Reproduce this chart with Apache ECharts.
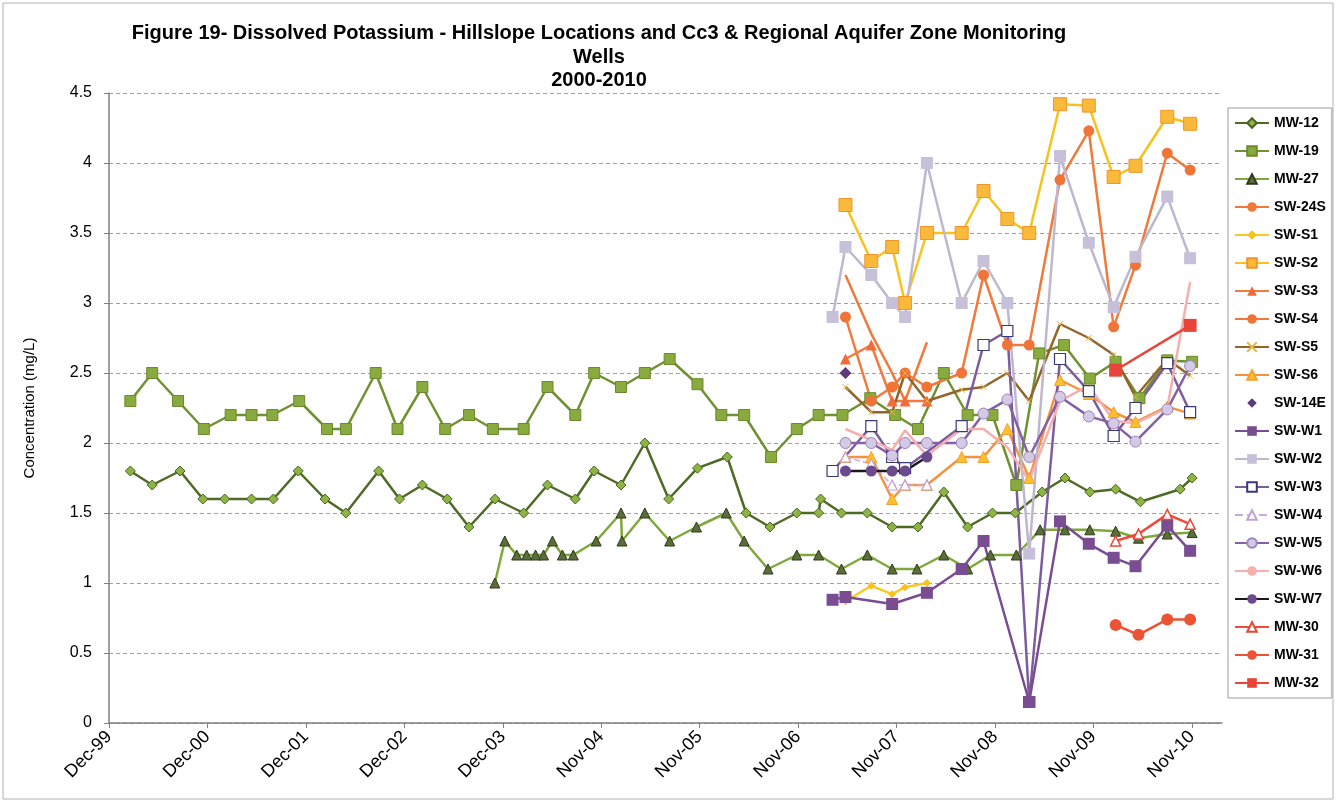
<!DOCTYPE html>
<html>
<head>
<meta charset="utf-8">
<script src="https://cdn.jsdelivr.net/npm/echarts@6/dist/echarts.min.js"></script>
<style>
  html, body { margin: 0; padding: 0; background: #fff; }
  #chart { width: 1337px; height: 803px; }
</style>
</head>
<body>
<div id="chart"></div>
<script>
// x tick labels (one tick every 362 days starting Dec-99)
const TICK_LABELS = ['Dec-99', 'Dec-00', 'Dec-01', 'Dec-02', 'Dec-03', 'Nov-04', 'Nov-05', 'Nov-06', 'Nov-07', 'Nov-08', 'Nov-09', 'Nov-10'];

// sample dates as decimal years
const MW12_DATES = [2000.17, 2000.39, 2000.67, 2000.90, 2001.12, 2001.39, 2001.61, 2001.86, 2002.13, 2002.34, 2002.67, 2002.88, 2003.11, 2003.36, 2003.58, 2003.84, 2004.13, 2004.37, 2004.65, 2004.84, 2005.11, 2005.35, 2005.59, 2005.88, 2006.18, 2006.37, 2006.61, 2006.88, 2007.10, 2007.12, 2007.33, 2007.59, 2007.84, 2008.10, 2008.36, 2008.60, 2008.85, 2009.08, 2009.35, 2009.58, 2009.83, 2010.09, 2010.34, 2010.74, 2010.86];
const MW12_K = [1.8, 1.7, 1.8, 1.6, 1.6, 1.6, 1.6, 1.8, 1.6, 1.5, 1.8, 1.6, 1.7, 1.6, 1.4, 1.6, 1.5, 1.7, 1.6, 1.8, 1.7, 2.0, 1.6, 1.82, 1.9, 1.5, 1.4, 1.5, 1.5, 1.6, 1.5, 1.5, 1.4, 1.4, 1.65, 1.4, 1.5, 1.5, 1.65, 1.75, 1.65, 1.67, 1.58, 1.67, 1.75];

const MW19_DATES = [2000.17, 2000.39, 2000.65, 2000.91, 2001.18, 2001.39, 2001.60, 2001.87, 2002.15, 2002.34, 2002.64, 2002.86, 2003.11, 2003.34, 2003.58, 2003.82, 2004.13, 2004.37, 2004.65, 2004.84, 2005.11, 2005.35, 2005.60, 2005.88, 2006.12, 2006.35, 2006.62, 2006.88, 2007.10, 2007.34, 2007.62, 2007.87, 2008.10, 2008.36, 2008.60, 2008.85, 2009.09, 2009.32, 2009.57, 2009.83, 2010.09, 2010.33, 2010.61, 2010.86];
const MW19_K = [2.3, 2.5, 2.3, 2.1, 2.2, 2.2, 2.2, 2.3, 2.1, 2.1, 2.5, 2.1, 2.4, 2.1, 2.2, 2.1, 2.1, 2.4, 2.2, 2.5, 2.4, 2.5, 2.6, 2.42, 2.2, 2.2, 1.9, 2.1, 2.2, 2.2, 2.32, 2.2, 2.1, 2.5, 2.2, 2.2, 1.7, 2.64, 2.7, 2.46, 2.58, 2.32, 2.59, 2.58];

const MW27_DATES = [2003.84, 2003.94, 2004.06, 2004.16, 2004.25, 2004.33, 2004.42, 2004.52, 2004.63, 2004.86, 2005.11, 2005.12, 2005.35, 2005.60, 2005.87, 2006.17, 2006.35, 2006.59, 2006.88, 2007.10, 2007.33, 2007.59, 2007.84, 2008.09, 2008.36, 2008.60, 2008.83, 2009.09, 2009.33, 2009.58, 2009.83, 2010.09, 2010.32, 2010.61, 2010.86];
const MW27_K = [1.0, 1.3, 1.2, 1.2, 1.2, 1.2, 1.3, 1.2, 1.2, 1.3, 1.5, 1.3, 1.5, 1.3, 1.4, 1.5, 1.3, 1.1, 1.2, 1.2, 1.1, 1.2, 1.1, 1.1, 1.2, 1.1, 1.2, 1.2, 1.38, 1.38, 1.38, 1.37, 1.32, 1.35, 1.36];

// surface water sampling rounds (null = not sampled)
const SW_DATES = [2007.24, 2007.37, 2007.63, 2007.84, 2007.97, 2008.19, 2008.54, 2008.76, 2009.00, 2009.22, 2009.53, 2009.82, 2010.07, 2010.29, 2010.61, 2010.84];
const SW24S_K = [null, 3.2, 2.78, 2.5, 2.3, 2.72, null, null, null, null, null, null, null, null, null, null];
const SWS1_K = [null, 0.87, 0.98, 0.92, 0.97, 1.0, null, null, null, null, null, null, null, null, null, null];
const SWS2_K = [null, 3.7, 3.3, 3.4, 3.0, 3.5, 3.5, 3.8, 3.6, 3.5, 4.42, 4.41, 3.9, 3.98, 4.33, 4.28];
const SWS3_K = [null, 2.6, 2.7, 2.3, 2.3, 2.3, null, null, null, null, null, null, null, null, null, null];
const SWS4_K = [null, 2.9, 2.3, 2.4, 2.5, 2.4, 2.5, 3.2, 2.7, 2.7, 3.88, 4.23, 2.83, 3.27, 4.07, 3.95];
const SWS5_K = [null, 2.4, 2.22, 2.22, 2.5, 2.3, 2.38, 2.4, 2.5, 2.3, 2.85, 2.75, 2.63, 2.33, 2.6, 2.48];
const SWS6_K = [null, 1.9, 1.9, 1.6, 1.7, 1.7, 1.9, 1.9, 2.1, 1.75, 2.45, 2.35, 2.22, 2.15, 2.26, 2.21];
const SW14E_K = [null, 2.5, null, null, null, null, null, null, null, null, null, null, null, null, null, null];
const SWW1_K = [0.88, 0.9, null, 0.85, null, 0.93, 1.1, 1.3, null, 0.15, 1.44, 1.28, 1.18, 1.12, 1.41, 1.23];
const SWW2_K = [2.9, 3.4, 3.2, 3.0, 2.9, 4.0, 3.0, 3.3, 3.0, 1.21, 4.05, 3.43, 2.97, 3.33, 3.76, 3.32];
const SWW3_K = [1.8, null, 2.12, 1.9, 1.82, null, 2.12, 2.7, 2.8, 0.15, 2.6, 2.37, 2.05, 2.25, 2.57, 2.22];
const SWW4_K = [null, 1.9, 1.85, 1.7, 1.7, 1.7, null, null, null, null, null, null, null, null, null, null];
const SWW5_K = [null, 2.0, 2.0, 1.91, 2.0, 2.0, 2.0, 2.21, 2.31, 1.9, 2.33, 2.19, 2.14, 2.01, 2.24, 2.55];
const SWW6_K = [null, 2.1, 2.02, 1.95, 2.09, 1.91, 2.1, 2.1, 1.97, 1.73, 2.3, 2.41, 2.16, 2.14, 2.25, 3.15];
const SWW7_K = [null, 1.8, 1.8, 1.8, 1.8, 1.9, null, null, null, null, null, null, null, null, null, null];

// new monitoring wells, 2010
const MW_LATE_DATES = [2010.09, 2010.32, 2010.61, 2010.84];
const MW30_K = [1.3, 1.35, 1.49, 1.42];
const MW31_K = [0.7, 0.63, 0.74, 0.74];
const MW32_K = [2.52, null, null, 2.84];

// axis origin = Dec-99 tick, ticks every 362 days
const X0 = 1999.955;
const TICK_DAYS = 362;
const toDays = yr => (yr - X0) * 365.25;

const FONT = 'Liberation Sans, Arial, sans-serif';

function series(name, dates, values, opts) {
  const data = [];
  dates.forEach((d, i) => {
    if (values[i] !== null && values[i] !== undefined) data.push([toDays(d), values[i]]);
  });
  return Object.assign({
    name: name,
    type: 'line',
    data: data,
    showAllSymbol: true,
    symbolSize: 10,
    emphasis: { disabled: true },
    animation: false
  }, opts);
}

const XMARK = 'path://M0,0L10,10M10,0L0,10';

const allSeries = [
  series('MW-12', MW12_DATES, MW12_K, {
    symbol: 'diamond', symbolSize: 10,
    itemStyle: { color: '#8db543', borderColor: '#4a6222', borderWidth: 1 },
    lineStyle: { color: '#4f6a25', width: 2.5 }
  }),
  series('MW-19', MW19_DATES, MW19_K, {
    symbol: 'rect', symbolSize: 11,
    itemStyle: { color: '#88aa3e', borderColor: '#6b8a2c', borderWidth: 1 },
    lineStyle: { color: '#6f9131', width: 2.5 }
  }),
  series('MW-27', MW27_DATES, MW27_K, {
    symbol: 'triangle', symbolSize: 10,
    itemStyle: { color: '#5b6d3a', borderColor: '#2e3a19', borderWidth: 1 },
    lineStyle: { color: '#7fa83c', width: 2.5 }
  }),
  series('SW-24S', SW_DATES, SW24S_K, {
    symbol: 'none',
    itemStyle: { color: '#f07a3c' },
    lineStyle: { color: '#f07a3c', width: 2.5 }
  }),
  series('SW-S1', SW_DATES, SWS1_K, {
    symbol: 'diamond', symbolSize: 8,
    itemStyle: { color: '#f8c21c' },
    lineStyle: { color: '#f8c828', width: 2.5 }
  }),
  series('SW-S2', SW_DATES, SWS2_K, {
    symbol: 'rect', symbolSize: 13,
    itemStyle: { color: '#f9b93a', borderColor: '#f0952c', borderWidth: 1 },
    lineStyle: { color: '#f7c21e', width: 2.5 }
  }),
  series('SW-S3', SW_DATES, SWS3_K, {
    symbol: 'triangle', symbolSize: 11,
    itemStyle: { color: '#f26b3a' },
    lineStyle: { color: '#f27a40', width: 2.5 }
  }),
  series('SW-S4', SW_DATES, SWS4_K, {
    symbol: 'circle', symbolSize: 11,
    itemStyle: { color: '#f07438' },
    lineStyle: { color: '#f07a3c', width: 2.5 }
  }),
  series('SW-S5', SW_DATES, SWS5_K, {
    symbol: XMARK, symbolSize: 6,
    itemStyle: { color: 'rgba(0,0,0,0)', borderColor: '#e8b848', borderWidth: 1 },
    lineStyle: { color: '#93652b', width: 2.5 }
  }),
  series('SW-S6', SW_DATES, SWS6_K, {
    symbol: 'triangle', symbolSize: 11,
    itemStyle: { color: '#ffc02e', borderColor: '#f5a030', borderWidth: 1 },
    lineStyle: { color: '#f5913f', width: 2.5 }
  }),
  series('SW-14E', SW_DATES, SW14E_K, {
    symbol: 'diamond', symbolSize: 12,
    itemStyle: { color: '#5e3a78' },
    lineStyle: { width: 0, opacity: 0 }
  }),
  series('SW-W2', SW_DATES, SWW2_K, {
    symbol: 'rect', symbolSize: 12,
    itemStyle: { color: '#c8c0d8' },
    lineStyle: { color: '#bdb7cf', width: 2.5 }
  }),
  series('SW-W3', SW_DATES, SWW3_K, {
    symbol: 'rect', symbolSize: 11,
    itemStyle: { color: '#ffffff', borderColor: '#3a3a78', borderWidth: 1.2 },
    lineStyle: { color: '#7c5c9c', width: 2.5 }
  }),
  // drawn after SW-W3 so its square at the Nov-08 low shows on top
  series('SW-W1', SW_DATES, SWW1_K, {
    symbol: 'rect', symbolSize: 12,
    itemStyle: { color: '#7a4d92' },
    lineStyle: { color: '#7a4d92', width: 2.5 }
  }),
  series('SW-W4', SW_DATES, SWW4_K, {
    symbol: 'triangle', symbolSize: 10,
    itemStyle: { color: '#ffffff', borderColor: '#c3a0d6', borderWidth: 1.2 },
    lineStyle: { color: '#c9a9dc', width: 1.5, type: 'dashed' }
  }),
  series('SW-W5', SW_DATES, SWW5_K, {
    symbol: 'circle', symbolSize: 11,
    itemStyle: { color: '#d4cae6', borderColor: '#9a84b8', borderWidth: 1 },
    lineStyle: { color: '#8660a4', width: 2.5 }
  }),
  series('SW-W6', SW_DATES, SWW6_K, {
    symbol: 'none',
    itemStyle: { color: '#f5b0ae' },
    lineStyle: { color: '#f5b0ae', width: 2.5 }
  }),
  series('SW-W7', SW_DATES, SWW7_K, {
    symbol: 'circle', symbolSize: 11,
    itemStyle: { color: '#6b4a8e' },
    lineStyle: { color: '#1a1a1a', width: 2.5 }
  }),
  series('MW-30', MW_LATE_DATES, MW30_K, {
    symbol: 'triangle', symbolSize: 10,
    itemStyle: { color: '#ffffff', borderColor: '#ee4535', borderWidth: 1.5 },
    lineStyle: { color: '#ee4a3c', width: 2.5 }
  }),
  series('MW-31', MW_LATE_DATES, MW31_K, {
    symbol: 'circle', symbolSize: 12,
    itemStyle: { color: '#ec5234' },
    lineStyle: { color: '#ec5234', width: 2.5 }
  }),
  series('MW-32', MW_LATE_DATES, MW32_K, {
    symbol: 'rect', symbolSize: 13,
    itemStyle: { color: '#e8443a' },
    lineStyle: { color: '#e8443a', width: 2.5 }
  })
];

const LEGEND_ORDER = ['MW-12', 'MW-19', 'MW-27', 'SW-24S', 'SW-S1', 'SW-S2', 'SW-S3', 'SW-S4', 'SW-S5', 'SW-S6', 'SW-14E', 'SW-W1', 'SW-W2', 'SW-W3', 'SW-W4', 'SW-W5', 'SW-W6', 'SW-W7', 'MW-30', 'MW-31', 'MW-32'];

const chart = echarts.init(document.getElementById('chart'), null, { renderer: 'canvas' });

chart.setOption({
  backgroundColor: '#ffffff',
  animation: false,
  textStyle: { fontFamily: FONT },
  title: {
    text: 'Figure 19- Dissolved Potassium - Hillslope Locations and Cc3 & Regional Aquifer Zone Monitoring\nWells\n2000-2010',
    left: 594,
    top: 17,
    textAlign: 'center',
    textStyle: { fontFamily: FONT, fontSize: 20, fontWeight: 'bold', color: '#000', lineHeight: 23.5, align: 'center' }
  },
  graphic: [{
    type: 'rect',
    shape: { x: 3, y: 3, width: 1330, height: 796 },
    style: { fill: 'none', stroke: '#b0b0b0', lineWidth: 1 },
    silent: true
  }],
  legend: {
    orient: 'vertical',
    left: 1228,
    top: 108,
    padding: [8, 6, 8, 6],
    itemWidth: 34,
    itemHeight: 12,
    itemGap: 14,
    borderColor: '#9a9a9a',
    borderWidth: 1,
    textStyle: { fontFamily: FONT, fontSize: 14, fontWeight: 'bold', color: '#000' },
    data: LEGEND_ORDER
  },
  grid: { left: 109, right: 115, top: 93, bottom: 80, containLabel: false },
  xAxis: {
    type: 'value',
    min: 0,
    max: 4093,
    interval: TICK_DAYS,
    axisLine: { show: true, onZero: false, lineStyle: { color: '#7f7f7f', width: 1.5 } },
    axisTick: { show: true, length: 5, lineStyle: { color: '#7f7f7f' } },
    splitLine: { show: false },
    axisLabel: {
      rotate: 45,
      margin: 11,
      showMaxLabel: false,
      fontFamily: FONT,
      fontSize: 18,
      color: '#000',
      formatter: v => {
        const i = Math.round(v / TICK_DAYS);
        return Math.abs(v - i * TICK_DAYS) < 1 && TICK_LABELS[i] ? TICK_LABELS[i] : '';
      }
    }
  },
  yAxis: {
    type: 'value',
    min: 0,
    max: 4.5,
    interval: 0.5,
    name: 'Concentration (mg/L)',
    nameLocation: 'middle',
    nameGap: 72,
    nameTextStyle: { fontFamily: FONT, fontSize: 15, color: '#000' },
    axisLine: { show: true, lineStyle: { color: '#7f7f7f', width: 1.5 } },
    axisTick: { show: true, length: 5, lineStyle: { color: '#7f7f7f' } },
    axisLabel: { fontFamily: FONT, fontSize: 16, color: '#000', margin: 17 },
    splitLine: { show: true, lineStyle: { color: '#a0a0a0', width: 1, type: [4, 3] } }
  },
  series: allSeries
});
</script>
</body>
</html>
